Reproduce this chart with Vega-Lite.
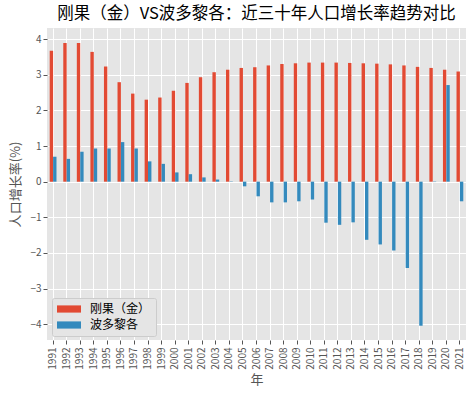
{
  "$schema": "https://vega.github.io/schema/vega-lite/v6.json",
  "autosize": "none",
  "width": 419,
  "height": 312,
  "padding": {"left": 47, "top": 28, "right": 8, "bottom": 59},
  "background": "white",
  "title": {
    "text": "刚果（金）VS波多黎各：近三十年人口增长率趋势对比",
    "fontSize": 16.5,
    "font": "Noto Sans CJK SC",
    "fontWeight": "normal",
    "color": "#000000",
    "anchor": "middle",
    "offset": 6
  },
  "data": {
    "values": [
      {"year": "1991", "country": "刚果（金）", "value": 3.67},
      {"year": "1992", "country": "刚果（金）", "value": 3.89},
      {"year": "1993", "country": "刚果（金）", "value": 3.89},
      {"year": "1994", "country": "刚果（金）", "value": 3.64},
      {"year": "1995", "country": "刚果（金）", "value": 3.23},
      {"year": "1996", "country": "刚果（金）", "value": 2.79},
      {"year": "1997", "country": "刚果（金）", "value": 2.47},
      {"year": "1998", "country": "刚果（金）", "value": 2.30},
      {"year": "1999", "country": "刚果（金）", "value": 2.36},
      {"year": "2000", "country": "刚果（金）", "value": 2.55},
      {"year": "2001", "country": "刚果（金）", "value": 2.77},
      {"year": "2002", "country": "刚果（金）", "value": 2.93},
      {"year": "2003", "country": "刚果（金）", "value": 3.07},
      {"year": "2004", "country": "刚果（金）", "value": 3.14},
      {"year": "2005", "country": "刚果（金）", "value": 3.19},
      {"year": "2006", "country": "刚果（金）", "value": 3.21},
      {"year": "2007", "country": "刚果（金）", "value": 3.26},
      {"year": "2008", "country": "刚果（金）", "value": 3.30},
      {"year": "2009", "country": "刚果（金）", "value": 3.32},
      {"year": "2010", "country": "刚果（金）", "value": 3.34},
      {"year": "2011", "country": "刚果（金）", "value": 3.34},
      {"year": "2012", "country": "刚果（金）", "value": 3.34},
      {"year": "2013", "country": "刚果（金）", "value": 3.33},
      {"year": "2014", "country": "刚果（金）", "value": 3.32},
      {"year": "2015", "country": "刚果（金）", "value": 3.31},
      {"year": "2016", "country": "刚果（金）", "value": 3.29},
      {"year": "2017", "country": "刚果（金）", "value": 3.26},
      {"year": "2018", "country": "刚果（金）", "value": 3.22},
      {"year": "2019", "country": "刚果（金）", "value": 3.19},
      {"year": "2020", "country": "刚果（金）", "value": 3.14},
      {"year": "2021", "country": "刚果（金）", "value": 3.09},
      {"year": "1991", "country": "波多黎各", "value": 0.70},
      {"year": "1992", "country": "波多黎各", "value": 0.64},
      {"year": "1993", "country": "波多黎各", "value": 0.84},
      {"year": "1994", "country": "波多黎各", "value": 0.93},
      {"year": "1995", "country": "波多黎各", "value": 0.93},
      {"year": "1996", "country": "波多黎各", "value": 1.11},
      {"year": "1997", "country": "波多黎各", "value": 0.93},
      {"year": "1998", "country": "波多黎各", "value": 0.57},
      {"year": "1999", "country": "波多黎各", "value": 0.50},
      {"year": "2000", "country": "波多黎各", "value": 0.26},
      {"year": "2001", "country": "波多黎各", "value": 0.21},
      {"year": "2002", "country": "波多黎各", "value": 0.12},
      {"year": "2003", "country": "波多黎各", "value": 0.06},
      {"year": "2004", "country": "波多黎各", "value": 0.01},
      {"year": "2005", "country": "波多黎各", "value": -0.13},
      {"year": "2006", "country": "波多黎各", "value": -0.41},
      {"year": "2007", "country": "波多黎各", "value": -0.58},
      {"year": "2008", "country": "波多黎各", "value": -0.58},
      {"year": "2009", "country": "波多黎各", "value": -0.55},
      {"year": "2010", "country": "波多黎各", "value": -0.50},
      {"year": "2011", "country": "波多黎各", "value": -1.15},
      {"year": "2012", "country": "波多黎各", "value": -1.21},
      {"year": "2013", "country": "波多黎各", "value": -1.14},
      {"year": "2014", "country": "波多黎各", "value": -1.63},
      {"year": "2015", "country": "波多黎各", "value": -1.76},
      {"year": "2016", "country": "波多黎各", "value": -1.93},
      {"year": "2017", "country": "波多黎各", "value": -2.42},
      {"year": "2018", "country": "波多黎各", "value": -4.04},
      {"year": "2019", "country": "波多黎各", "value": -0.01},
      {"year": "2020", "country": "波多黎各", "value": 2.71},
      {"year": "2021", "country": "波多黎各", "value": -0.55}
    ]
  },
  "mark": {"type": "bar"},
  "encoding": {
    "x": {
      "field": "year",
      "type": "ordinal",
      "scale": {"paddingInner": 0.5, "paddingOuter": 0.2},
      "axis": {
        "title": "年",
        "titleFont": "Noto Sans CJK SC",
        "titleFontSize": 13,
        "titleFontWeight": "normal",
        "titleColor": "#555555",
        "titlePadding": 4,
        "labelAngle": -90,
        "labelAlign": "right",
        "labelBaseline": "middle",
        "labelFontSize": 10,
        "labelColor": "#555555",
        "labelPadding": 3,
        "tickColor": "#555555",
        "tickSize": 4,
        "bandPosition": 0.5,
        "grid": true,
        "gridColor": "#ffffff",
        "gridWidth": 1,
        "domain": false
      }
    },
    "xOffset": {
      "field": "country",
      "type": "nominal",
      "sort": ["刚果（金）", "波多黎各"]
    },
    "y": {
      "field": "value",
      "type": "quantitative",
      "scale": {"domain": [-4.44, 4.31], "nice": false, "zero": false},
      "axis": {
        "title": "人口增长率(%)",
        "titleFont": "Noto Sans CJK SC",
        "titleFontSize": 13,
        "titleFontWeight": "normal",
        "titleColor": "#555555",
        "titlePadding": 7,
        "values": [-4, -3, -2, -1, 0, 1, 2, 3, 4],
        "labelFontSize": 10,
        "labelColor": "#555555",
        "labelPadding": 2,
        "tickColor": "#555555",
        "tickSize": 4,
        "grid": true,
        "gridColor": "#ffffff",
        "gridWidth": 1,
        "domain": false
      }
    },
    "color": {
      "field": "country",
      "type": "nominal",
      "scale": {"domain": ["刚果（金）", "波多黎各"], "range": ["#E24A33", "#348ABD"]},
      "legend": {
        "title": null,
        "orient": "none",
        "legendX": 5,
        "legendY": 270,
        "padding": 5,
        "fillColor": "#E5E5E5",
        "strokeColor": "#CCCCCC",
        "cornerRadius": 2,
        "symbolType": "M-2,-0.6H2V0.6H-2Z",
        "symbolSize": 144,
        "symbolStrokeWidth": 0,
        "symbolOffset": 6,
        "labelOffset": 15,
        "labelFont": "Noto Sans CJK SC",
        "labelFontSize": 12,
        "labelColor": "#000000",
        "rowPadding": 4
      }
    }
  },
  "config": {
    "view": {"fill": "#E5E5E5", "stroke": null},
    "font": "Noto Sans CJK SC"
  }
}
